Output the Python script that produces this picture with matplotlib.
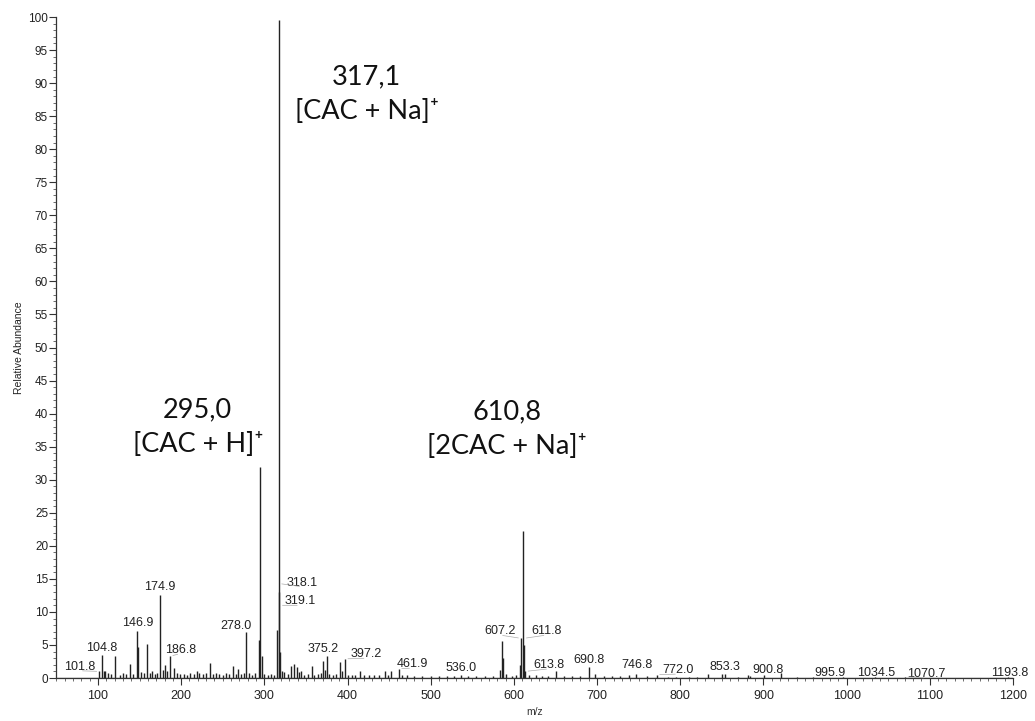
#Python code for plotting a mass spectrum
import numpy as np
import matplotlib.pyplot as plt
from matplotlib.ticker import MultipleLocator

plt.rcParams['font.family'] = ['Liberation Sans', 'DejaVu Sans']

#Peak list (m/z, relative abundance)
mz = [101.8, 104.8, 107, 109, 112, 116, 120.5, 126, 130, 134, 138.5, 142,
      146.9, 148.5, 152, 155, 158.5, 162, 165, 168, 171, 174.9, 178, 180.5,
      183, 186.8, 191.5, 195, 199, 203, 207, 211, 215, 219, 222, 226, 230,
      234.6, 238, 242, 246, 250, 254, 258, 262.6, 266, 268.5, 272, 275, 278.0,
      281, 285, 289, 293, 295.0, 297, 300, 304, 308, 312, 315, 317.1, 318.1,
      319.1, 321, 324, 328, 332.5, 335.5, 339, 342, 344.5, 348, 352, 356.8,
      360, 364, 368, 370.8, 372.5, 375.2, 378, 382, 386, 391, 393, 397.2,
      401, 405, 409, 415, 420, 426, 432, 438, 445, 449, 452, 461.9, 466, 472,
      480, 490, 500, 510, 520, 528, 536.0, 545, 555, 565, 575, 583.5, 585.2,
      587, 590, 598, 603, 607.2, 608.7, 610.8, 611.8, 613.8, 618, 627, 634,
      641, 651, 660, 670, 680, 690.8, 698, 708, 718, 728, 738, 746.8, 760,
      772.0, 785, 795, 810, 820, 833, 850, 853.3, 870, 882, 884, 900.8, 921,
      940, 960, 995.9, 1034.5, 1070.7, 1193.8]
abund = [1.0, 3.5, 1.0, 1.1, 0.8, 0.6, 3.4, 0.5, 0.7, 0.6, 2.1, 0.6,
         7.1, 4.7, 0.9, 0.8, 5.1, 0.7, 1.0, 0.6, 0.8, 12.6, 1.2, 2.0,
         1.0, 3.3, 1.5, 0.7, 0.6, 0.6, 0.5, 0.7, 0.6, 1.0, 0.8, 0.6, 0.7,
         2.3, 0.6, 0.8, 0.6, 0.5, 0.7, 0.6, 1.8, 0.6, 1.3, 0.6, 0.8, 7.0,
         0.8, 0.5, 0.7, 5.7, 32.0, 3.4, 0.6, 0.5, 0.6, 0.5, 7.2, 99.5, 13.0,
         4.0, 1.1, 0.9, 0.6, 1.8, 2.1, 1.7, 0.9, 1.0, 0.5, 0.6, 1.8,
         0.5, 0.6, 0.7, 2.6, 1.2, 3.4, 0.6, 0.5, 0.6, 2.4, 1.0, 2.9,
         0.5, 0.5, 0.4, 1.0, 0.4, 0.4, 0.4, 0.4, 1.1, 0.5, 1.1, 1.4, 0.5, 0.4,
         0.3, 0.3, 0.3, 0.3, 0.3, 0.3, 0.5, 0.3, 0.3, 0.3, 0.3, 1.2, 5.6,
         3.0, 0.6, 0.3, 0.4, 2.0, 6.0, 22.2, 5.0, 1.0, 0.4, 0.5, 0.3,
         0.3, 1.0, 0.3, 0.3, 0.3, 1.6, 0.6, 0.3, 0.3, 0.3, 0.4, 0.6, 0.3,
         0.5, 0.2, 0.2, 0.2, 0.2, 0.6, 0.6, 0.6, 0.2, 0.4, 0.3, 0.5, 0.7,
         0.15, 0.15, 0.2, 0.2, 0.2, 0.2]

#Peak labels and where they sit (label centre in data coords)
lab_text = ['101.8', '104.8', '146.9', '174.9', '186.8', '278.0', '318.1',
            '319.1', '375.2', '397.2', '461.9', '536.0', '607.2', '611.8',
            '613.8', '690.8', '746.8', '772.0', '853.3', '900.8', '995.9',
            '1034.5', '1070.7', '1193.8']
lab_x = [78, 105, 147.7, 174.5, 199, 265.5, 345.6, 342.8, 370.8, 423, 477.8,
         536.3, 583.2, 639.3, 642.5, 690.5, 747.4, 797.5, 853.6, 905.6, 980.6,
         1035.9, 1096, 1196]
lab_y = [1.7, 4.6, 8.3, 13.7, 4.3, 7.8, 14.4, 11.6, 4.4, 3.6, 2.1, 1.5, 7.1,
         7.1, 2.0, 2.7, 1.9, 1.2, 1.6, 1.2, 0.8, 0.8, 0.6, 0.8]

#Leader lines (label index -> point on the trace)
lead_idx = [0, 4, 6, 7, 9, 10, 12, 13, 14, 17, 22]
lead_xy = [(101.8, 1.0), (186.8, 3.3), (317.6, 14.3), (318.5, 11.0),
           (397.2, 2.9), (461.9, 1.4), (608.7, 6.0), (611.8, 6.0),
           (613.8, 1.0), (772.0, 0.5), (1070.7, 0.2)]

#Ion annotations
ion_mz = ['317,1', '295,0', '610,8']
ion_name = ['[CAC + Na]\u207a', '[CAC + H]\u207a', '[2CAC + Na]\u207a']
ion_pos = [(423, 88.3), (220, 38.0), (592, 37.6)]

#Create the plot
fig = plt.figure(figsize=(10.35, 7.21), dpi=100)
ax = fig.add_axes([0.0545, 0.0596, 0.9242, 0.9168])

ax.vlines(mz, 0, abund, color='#222222', lw=1.0)
ax.axhline(0, color='#333333', lw=0.9)

for t, x, y in zip(lab_text, lab_x, lab_y):
    ax.text(x, y, t, ha='center', va='center', fontsize=9, color='#222222')

for i, (px, py) in zip(lead_idx, lead_xy):
    ax.annotate('', xy=(px, py), xytext=(lab_x[i], lab_y[i] - 0.6),
                arrowprops=dict(arrowstyle='-', color='#aaaaaa', lw=0.5))

for m, n, (x, y) in zip(ion_mz, ion_name, ion_pos):
    ax.text(x, y, m + '\n' + n, ha='center', va='center', fontsize=19.5,
            linespacing=1.5, family=['Lato', 'DejaVu Sans'], color='#111111')

#Axes styling
ax.set_xlim(50, 1200)
ax.set_ylim(0, 100)
ax.xaxis.set_minor_locator(MultipleLocator(10))
ax.yaxis.set_major_locator(MultipleLocator(5))
ax.yaxis.set_minor_locator(MultipleLocator(1))
ax.set_xticks(np.arange(100, 1201, 100))
ax.tick_params(which='major', direction='out', length=5, width=0.8,
               labelsize=9, colors='#333333', labelcolor='#222222')
ax.tick_params(which='minor', direction='out', length=2.5, width=0.6,
               colors='#555555')
ax.tick_params(axis='y', labelsize=8.5, pad=1)
for s in ['top', 'right']:
    ax.spines[s].set_visible(False)
for s in ['left', 'bottom']:
    ax.spines[s].set_color('#333333')
    ax.spines[s].set_linewidth(0.9)

ax.set_xlabel('m/z', fontsize=7.5, labelpad=4, color='#333333')
ax.set_ylabel('Relative Abundance', fontsize=7.5, labelpad=3, color='#222222')

#Save the plot
fig.savefig('out.png', dpi=100)
